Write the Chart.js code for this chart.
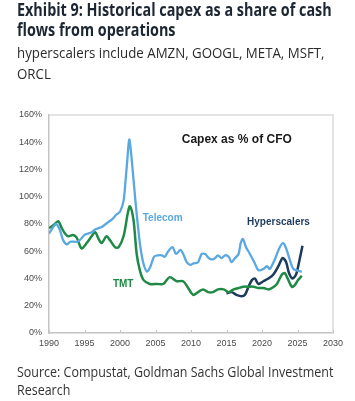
<!DOCTYPE html>
<html><head><meta charset="utf-8">
<script src="https://cdn.jsdelivr.net/npm/chart.js@4.4.1/dist/chart.umd.min.js"></script>
<style>
html,body{margin:0;padding:0;background:#fff;width:355px;height:401px;overflow:hidden}
#c{position:absolute;left:0;top:0}
.t{position:absolute;left:17px;white-space:nowrap;transform-origin:0 0;font-family:"Open Sans","Noto Sans",sans-serif}
.ti{font-weight:700;font-size:18px;line-height:20px;color:#1d2633}
.su{font-weight:400;font-size:15px;line-height:20px;color:#2b2b2b}
.so{font-weight:400;font-size:15px;line-height:18px;color:#333}
</style></head><body>
<canvas id="c" width="355" height="401"></canvas>
<div class="t ti" style="top:-1px" data-w="315" data-g="a">Exhibit 9: Historical capex as a share of cash</div>
<div class="t ti" style="top:19px" data-g="a">flows from operations</div>
<div class="t su" style="top:42px" data-w="308" data-g="b">hyperscalers include AMZN, GOOGL, META, MSFT,</div>
<div class="t su" style="top:63px" data-g="b">ORCL</div>
<div class="t so" style="top:362px" data-w="316" data-g="c">Source: Compustat, Goldman Sachs Global Investment</div>
<div class="t so" style="top:380px" data-g="c">Research</div>
<script>
// ---- data ----
const telecomYears = [1990.0,1990.5,1991.0,1991.5,1992.0,1992.5,1993.0,1993.5,1994.0,1994.5,1995.0,1995.5,1996.0,1996.5,1997.0,1997.5,1998.0,1998.5,1999.0,1999.5,2000.0,2000.5,2000.75,2001.0,2001.3,2001.6,2002.0,2002.3,2002.6,2002.9,2003.3,2003.8,2004.3,2004.8,2005.4,2005.9,2006.3,2006.8,2007.4,2007.9,2008.5,2008.9,2009.4,2009.9,2010.3,2011.0,2011.5,2012.0,2012.5,2013.0,2013.4,2013.8,2014.3,2014.8,2015.3,2015.7,2016.2,2016.7,2017.0,2017.3,2017.75,2018.3,2019.0,2019.5,2020.2,2020.7,2021.1,2021.8,2022.5,2023.0,2023.4,2023.9,2024.4,2024.9,2025.6];
const telecomValues = [73,77,80,76,68,65,67,67,67,69,72,73,74,76,77,78,80,82,84,87,89,97,110,125,142,130,107,90,75,62,51,45,49,56,57,57,56,60,63,58,61,58,52,50,51,52,58,58,55,54,55,57,55,57,56,52,55,58,66,69,63,58,51,46,47,49,47,54,63,66,62,54,47,46,45];
const tmtYears = [1990.0,1990.6,1991.3,1991.8,1992.25,1992.7,1993.4,1993.9,1994.6,1995.3,1996.0,1996.5,1996.9,1997.4,1998.1,1998.6,1999.3,1999.8,2000.5,2001.1,2001.4,2001.9,2002.35,2002.8,2003.3,2004.2,2005.2,2006.1,2007.0,2008.0,2008.9,2009.6,2010.3,2011.0,2011.7,2012.4,2013.1,2013.8,2014.6,2015.3,2016.0,2016.7,2017.4,2018.1,2018.8,2019.5,2020.2,2020.9,2021.4,2022.1,2022.8,2023.2,2023.7,2024.2,2024.6,2025.1,2025.6];
const tmtValues = [77,79,82,77,73,71,72,70,62,66,71,74,70,66,71,68,63,63,71,88,93,83,58,46,39,36,36,36,41,38,38,33,28,30,32,30,30,32,32,30,32,33,34,34,34,33,33,32,33,36,43,44,39,34,35,39,42];
const hyperYears = [2015.0,2015.7,2016.4,2017.1,2017.6,2018.1,2018.6,2019.0,2019.5,2020.2,2020.9,2021.6,2022.3,2022.9,2023.4,2023.8,2024.3,2024.8,2025.3,2025.7];
const hyperValues = [29,30,28,27,28,34,39,40,36,38,40,43,49,55,52,44,40,43,54,64];
const seriesNames = ["Telecom","TMT","Hyperscalers"];
const xTicks = [1990,1995,2000,2005,2010,2015,2020,2025,2030];
const yTicks = [0,20,40,60,80,100,120,140,160];

const pts = (xs, ys) => xs.map((x, i) => ({x, y: ys[i]}));

// fit text lines
document.querySelectorAll('.t[data-w]').forEach(el => {
  const s = +el.dataset.w / el.scrollWidth;
  document.querySelectorAll('.t[data-g="' + el.dataset.g + '"]').forEach(e => e.style.transform = 'scaleX(' + s + ')');
});

const C_TEL = '#5aa8e2', C_TMT = '#1f8a45', C_HYP = '#1d3a5c';

const framePlugin = {
  id: 'frame',
  beforeDatasetsDraw(chart) {
    const {ctx, chartArea: a} = chart;
    const xs = chart.scales.x;
    ctx.save();
    ctx.strokeStyle = '#dcdcdc';
    ctx.lineWidth = 1.5;
    ctx.beginPath();
    ctx.moveTo(a.left, a.top); ctx.lineTo(a.right, a.top); ctx.lineTo(a.right, a.bottom);
    ctx.stroke();
    ctx.strokeStyle = '#c4c4c4';
    ctx.lineWidth = 1;
    ctx.beginPath();
    xTicks.forEach(v => {
      const px = Math.round(xs.getPixelForValue(v)) + 0.5;
      ctx.moveTo(px, a.bottom); ctx.lineTo(px, a.bottom - 3);
    });
    ctx.stroke();
    ctx.restore();
  }
};
const labelPlugin = {
  id: 'labels',
  afterDatasetsDraw(chart, args, opts) {
    const {ctx} = chart;
    const xs = chart.scales.x, ys = chart.scales.y;
    ctx.save();
    ctx.textBaseline = 'middle';
    ctx.textAlign = 'left';
    opts.items.forEach(it => {
      ctx.font = it.font;
      ctx.fillStyle = it.color;
      ctx.fillText(it.text, xs.getPixelForValue(it.x), ys.getPixelForValue(it.y));
    });
    ctx.restore();
  }
};

new Chart(document.getElementById('c'), {
  type: 'line',
  data: {
    datasets: [
      {label: seriesNames[0], data: pts(telecomYears, telecomValues), borderColor: C_TEL, borderWidth: 2.3},
      {label: seriesNames[1], data: pts(tmtYears, tmtValues), borderColor: C_TMT, borderWidth: 2.5},
      {label: seriesNames[2], data: pts(hyperYears, hyperValues), borderColor: C_HYP, borderWidth: 2.5}
    ]
  },
  options: {
    responsive: false,
    animation: false,
    devicePixelRatio: 1,
    elements: {point: {radius: 0}, line: {tension: 0.3, fill: false}},
    layout: {padding: {left: 0, top: 115, right: 22, bottom: 48}},
    plugins: {
      legend: {display: false},
      tooltip: {enabled: false},
      labels: {items: [
        {text: 'Capex as % of CFO', x: 2008.7, y: 142, font: 'bold 12px "Liberation Sans", Arial, sans-serif', color: '#1a1a1a'},
        {text: seriesNames[0], x: 2003.2, y: 84, font: 'bold 10px "Liberation Sans", Arial, sans-serif', color: C_TEL},
        {text: seriesNames[2], x: 2017.9, y: 81, font: 'bold 10px "Liberation Sans", Arial, sans-serif', color: C_HYP},
        {text: seriesNames[1], x: 1999.0, y: 36, font: 'bold 10px "Liberation Sans", Arial, sans-serif', color: C_TMT}
      ]}
    },
    scales: {
      x: {
        type: 'linear', min: 1990, max: 2030,
        afterBuildTicks: s => { s.ticks = xTicks.map(v => ({value: v})); },
        afterFit: s => { s.height = 20; },
        grid: {drawOnChartArea: false, drawTicks: false},
        border: {display: true, color: '#c4c4c4', width: 1.5},
        ticks: {callback: v => String(v), font: {family: '"Liberation Sans", Arial, sans-serif', size: 9}, color: '#4a4a4a', padding: 5, maxRotation: 0, autoSkip: false}
      },
      y: {
        min: 0, max: 160,
        afterBuildTicks: s => { s.ticks = yTicks.map(v => ({value: v})); },
        afterFit: s => { s.width = 49; },
        grid: {drawOnChartArea: false, drawTicks: false},
        border: {display: true, color: '#c4c4c4', width: 1.5},
        ticks: {callback: v => v + '%', font: {family: '"Liberation Sans", Arial, sans-serif', size: 9}, color: '#4a4a4a', padding: 7}
      }
    }
  },
  plugins: [framePlugin, labelPlugin]
});
</script>
</body></html>
